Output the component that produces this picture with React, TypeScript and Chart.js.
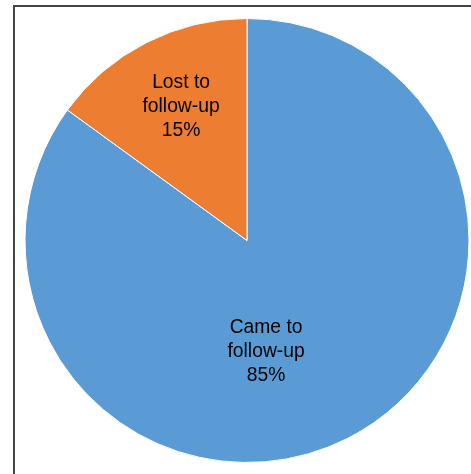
import React, { useEffect, useRef } from "react";
import { Chart, registerables } from "chart.js";

Chart.register(...registerables);

const categories = ["Came to follow-up", "Lost to follow-up"];
const labelLines = [
  ["Came to", "follow-up"],
  ["Lost to", "follow-up"],
];
const values = [85, 15];
const colors = ["#5B9BD5", "#ED7D31"];

// label placement relative to pie center, as fractions of the radius
const labelPlacement = [
  { dx: 0.086, dy: 0.5 },
  { dx: -0.297, dy: -0.604 },
];

const sliceLabels = {
  id: "sliceLabels",
  afterDatasetsDraw(chart: any) {
    const meta = chart.getDatasetMeta(0);
    const ctx = chart.ctx;
    const total = values.reduce((a, b) => a + b, 0);
    ctx.save();
    ctx.font = '19.3px "Liberation Sans", Arial, sans-serif';
    ctx.fillStyle = "#000000";
    ctx.textAlign = "center";
    ctx.textBaseline = "middle";
    const lh = 23.8;
    meta.data.forEach((arc: any, i: number) => {
      const r = arc.outerRadius;
      const cx = arc.x + labelPlacement[i].dx * r;
      const cy = arc.y + labelPlacement[i].dy * r;
      const lines = [...labelLines[i], Math.round((values[i] / total) * 100) + "%"];
      const start = cy - ((lines.length - 1) * lh) / 2;
      lines.forEach((t, k) => ctx.fillText(t, cx, start + k * lh));
    });
    ctx.restore();
  },
};

export default function App() {
  const ref = useRef<HTMLCanvasElement>(null);
  useEffect(() => {
    if (!ref.current) return;
    const chart = new Chart(ref.current, {
      type: "pie",
      data: {
        labels: categories,
        datasets: [
          {
            data: values,
            backgroundColor: colors,
            borderColor: "#ffffff",
            borderWidth: 1,
          },
        ],
      },
      options: {
        responsive: false,
        animation: false,
        layout: { padding: { left: 24.5, right: 1.5, top: 18, bottom: 11 } },
        plugins: {
          legend: { display: false },
          tooltip: { enabled: false },
        },
      },
      plugins: [sliceLabels],
    });
    return () => chart.destroy();
  }, []);
  return (
    <div
      style={{
        position: "fixed",
        left: 0,
        top: 0,
        width: 471,
        height: 474,
        overflow: "hidden",
        background: "#ffffff",
      }}
    >
      <div
        style={{
          position: "absolute",
          left: 13,
          top: 5,
          width: 600,
          height: 600,
          border: "2px solid #444444",
          boxSizing: "border-box",
        }}
      />
      <canvas
        ref={ref}
        width={471}
        height={474}
        style={{ position: "absolute", left: 0, top: 0 }}
      />
    </div>
  );
}
